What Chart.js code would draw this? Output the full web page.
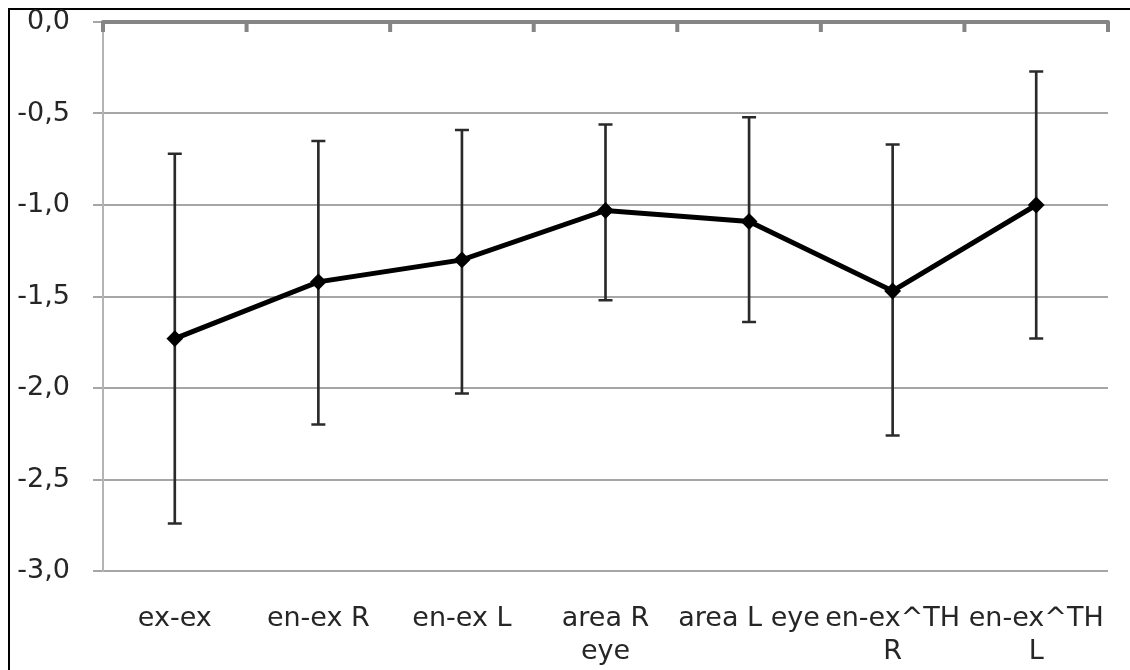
<!DOCTYPE html>
<html>
<head>
<meta charset="utf-8">
<script src="https://cdn.jsdelivr.net/npm/chart.js@4/dist/chart.umd.min.js"></script>
<style>
  html, body { margin: 0; padding: 0; background: #fff; overflow: hidden; }
  #frame { position: absolute; left: 8px; top: 8px; width: 3000px; height: 3000px; border: 2px solid #000; }
  #wrap { position: absolute; left: 0; top: 0; width: 1130px; height: 670px; }
</style>
</head>
<body>
<div id="frame"></div>
<div id="wrap"><canvas id="c" width="1130" height="670"></canvas></div>
<script>
const categories = [["ex-ex"], ["en-ex R"], ["en-ex L"], ["area R", "eye"], ["area L eye"], ["en-ex^TH", "R"], ["en-ex^TH", "L"]];
const means = [-1.73, -1.42, -1.30, -1.03, -1.09, -1.47, -1.00];
const upper = [-0.72, -0.65, -0.59, -0.56, -0.52, -0.67, -0.27];
const lower = [-2.74, -2.20, -2.03, -1.52, -1.64, -2.26, -1.73];
const yTicks = { min: -3.0, max: 0.0, step: 0.5 };

const ranges = lower.map((lo, i) => [lo, upper[i]]);
const FONT = "'DejaVu Sans', sans-serif";
const TEXT = '#262626';

const topAxisPlugin = {
  id: 'topAxis',
  beforeDatasetsDraw(chart) {
    const ctx = chart.ctx;
    const xs = chart.scales.x;
    const area = chart.chartArea;
    const n = categories.length;
    const half = (xs.getPixelForValue(1) - xs.getPixelForValue(0)) / 2;
    ctx.save();
    ctx.strokeStyle = '#858585';
    ctx.lineWidth = 4;
    ctx.lineCap = 'round';
    ctx.lineJoin = 'round';
    ctx.beginPath();
    ctx.moveTo(area.left, area.top);
    ctx.lineTo(area.right, area.top);
    ctx.stroke();
    ctx.lineCap = 'butt';
    ctx.lineWidth = 4;
    for (let i = 0; i <= n; i++) {
      const px = i < n ? xs.getPixelForValue(i) - half : xs.getPixelForValue(n - 1) + half;
      ctx.beginPath();
      ctx.moveTo(px, area.top);
      ctx.lineTo(px, area.top + 10);
      ctx.stroke();
    }
    ctx.restore();
  }
};

new Chart(document.getElementById('c'), {
  type: 'line',
  data: {
    labels: categories,
    datasets: [
      {
        type: 'line',
        data: means,
        borderColor: '#000',
        backgroundColor: '#000',
        borderWidth: 5,
        pointStyle: 'rectRot',
        pointRadius: 7,
        pointBorderWidth: 2,
        pointBackgroundColor: '#000',
        pointBorderColor: '#000',
        tension: 0,
        order: 0
      },
      {
        type: 'line',
        data: upper,
        showLine: false,
        pointStyle: 'line',
        pointRadius: 7,
        pointBorderWidth: 2.5,
        pointBorderColor: '#2a2a2a',
        order: 1
      },
      {
        type: 'line',
        data: lower,
        showLine: false,
        pointStyle: 'line',
        pointRadius: 7,
        pointBorderWidth: 2.5,
        pointBorderColor: '#2a2a2a',
        order: 1
      },
      {
        type: 'bar',
        data: ranges,
        backgroundColor: '#2a2a2a',
        borderWidth: 0,
        barThickness: 2,
        order: 2
      }
    ]
  },
  options: {
    responsive: false,
    animation: false,
    events: [],
    layout: { padding: { top: 22, right: 22, left: 0, bottom: 0 } },
    plugins: { legend: { display: false }, tooltip: { enabled: false } },
    scales: {
      x: {
        type: 'category',
        offset: true,
        grid: { display: false, offset: true },
        border: { display: false },
        ticks: {
          autoSkip: false,
          maxRotation: 0,
          minRotation: 0,
          padding: 24,
          color: TEXT,
          font: { family: FONT, size: 27, lineHeight: 1.2 }
        },
        afterFit(scale) {
          scale.height = 99;
          scale.paddingLeft = 0;
          scale.paddingRight = 0;
        }
      },
      y: {
        min: yTicks.min,
        max: yTicks.max,
        grid: { color: '#a6a6a6', lineWidth: 2, tickLength: 10, drawTicks: true },
        border: { display: true, color: '#b4b4b4', width: 2 },
        ticks: {
          stepSize: yTicks.step,
          padding: 23,
          color: TEXT,
          font: { family: FONT, size: 27 },
          callback: (v) => v.toFixed(1).replace('.', ',')
        },
        afterFit(scale) {
          scale.width = 103;
          scale.paddingTop = 0;
          scale.paddingBottom = 0;
        }
      }
    }
  },
  plugins: [topAxisPlugin]
});
</script>
</body>
</html>
